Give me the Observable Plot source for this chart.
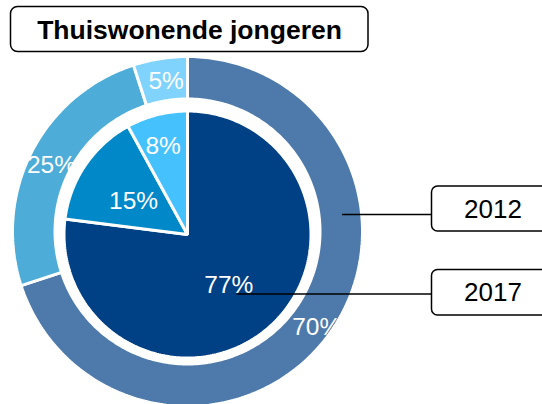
<!DOCTYPE html>
<html><head><meta charset="utf-8">
<script src="https://cdn.jsdelivr.net/npm/d3@7"></script>
<script src="https://cdn.jsdelivr.net/npm/@observablehq/plot@0.6"></script>
<style>html,body{margin:0;padding:0;background:#fff;overflow:hidden}</style>
</head><body><div id="chart"></div>
<script>
// ---- data ----
const chartTitle = "Thuiswonende jongeren";
const years = ["2012", "2017"];
const groups = ["groep 1", "groep 2", "groep 3"];
const values2012 = [70, 25, 5];
const values2017 = [77, 15, 8];

// ---- styles / layout ----
const W = 542, H = 404;
const FONT = "Arial, 'Liberation Sans', sans-serif";
const colors2012 = ["#4e7aab", "#4dacd8", "#80d3fd"];
const colors2017 = ["#004085", "#0088c9", "#45c2fe"];
const ringGeom = {cx: 187, cy: 231, r0: 132.5, r1: 175, labelR: () => 156};
const pieGeom = {cx: 187, cy: 234, r0: 0, r1: 123.5, labelR: (v) => (v < 10 ? 94 : 64)};

function buildSlices(values, year, geom) {
  const total = d3.sum(values);
  let acc = 0;
  const pts = [], labels = [];
  values.forEach((v, i) => {
    const a0 = acc / total * 2 * Math.PI; acc += v;
    const a1 = acc / total * 2 * Math.PI;
    const key = year + " " + groups[i];
    const n = Math.max(2, Math.ceil((a1 - a0) / (Math.PI / 180)));
    const pt = (a, r) => ({key, x: geom.cx + r * Math.sin(a), y: geom.cy - r * Math.cos(a)});
    for (let k = 0; k <= n; k++) pts.push(pt(a0 + (a1 - a0) * k / n, geom.r1));
    if (geom.r0 > 0) for (let k = n; k >= 0; k--) pts.push(pt(a0 + (a1 - a0) * k / n, geom.r0));
    else pts.push(pt(0, 0));
    const am = (a0 + a1) / 2, lr = geom.labelR(v);
    labels.push({text: v + "%", x: geom.cx + lr * Math.sin(am), y: geom.cy - lr * Math.cos(am)});
  });
  return {pts, labels};
}

const ring = buildSlices(values2012, years[0], ringGeom);
const pie = buildSlices(values2017, years[1], pieGeom);

const colorDomain = [...groups.map(g => years[0] + " " + g), ...groups.map(g => years[1] + " " + g)];
const colorRange = [...colors2012, ...colors2017];

// annotation layout
const legendBoxes = years.map((y, i) => ({year: y, y1: [186, 269.5][i], y2: [231, 315][i], ty: [209.5, 292.5][i]}));
const leaders = [
  {x1: 341.5, y1: 214, x2: 431.5, y2: 214},
  {x1: 236, y1: 293.5, x2: 431.5, y2: 293.5}
];

const lineOpts = {x: "x", y: "y", z: "key", fill: "key", stroke: "white", strokeWidth: 3, curve: "linear-closed", strokeLinejoin: "miter"};
const labelOpts = {x: "x", y: "y", text: "text", fill: "white", fontSize: 24.5, fontFamily: FONT, textAnchor: "middle", lineAnchor: "middle"};

const chart = Plot.plot({
  width: W, height: H,
  margin: 0,
  x: {domain: [0, W], range: [0, W], axis: null},
  y: {domain: [0, H], range: [0, H], axis: null},
  color: {domain: colorDomain, range: colorRange},
  style: {fontFamily: FONT, background: "white"},
  marks: [
    Plot.line(ring.pts, lineOpts),
    Plot.line(pie.pts, lineOpts),
    Plot.text(ring.labels, {...labelOpts, dx: 3, dy: 4}),
    Plot.text(pie.labels, {...labelOpts, dx: -1, dy: 2.5}),
    Plot.link(leaders, {x1: "x1", y1: "y1", x2: "x2", y2: "y2", stroke: "black", strokeWidth: 1.5}),
    Plot.rect(legendBoxes, {x1: 431.5, x2: 570, y1: "y1", y2: "y2", rx: 6, fill: "white", stroke: "black", strokeWidth: 1.5}),
    Plot.text(legendBoxes, {x: 492.5, y: "ty", text: "year", fill: "black", fontSize: 26, fontFamily: FONT, textAnchor: "middle", lineAnchor: "middle"}),
    Plot.rect([chartTitle], {x1: 10.5, x2: 368, y1: 6.5, y2: 51.5, rx: 7, fill: "white", stroke: "black", strokeWidth: 1.5}),
    Plot.text([chartTitle], {x: 189, y: 30, text: d => d, fill: "black", fontSize: 26.5, fontWeight: "bold", fontFamily: FONT, textAnchor: "middle", lineAnchor: "middle"})
  ]
});
document.getElementById("chart").appendChild(chart);
</script>
</body></html>
